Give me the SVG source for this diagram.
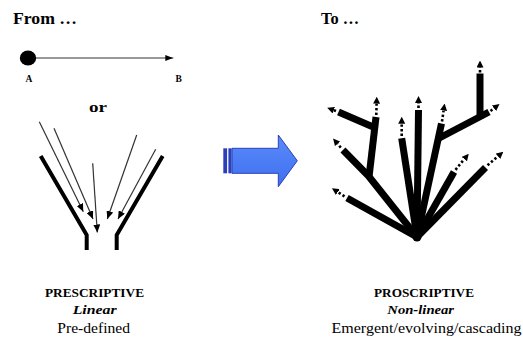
<svg xmlns="http://www.w3.org/2000/svg" width="523" height="338" viewBox="0 0 523 338">
<style>
.t{font-family:"Liberation Serif","Times New Roman",serif;fill:#000}
.b{font-weight:bold}
.thin{stroke:#333;stroke-width:1.2;fill:none}
.thick{stroke:#000;stroke-width:7;fill:none;stroke-linejoin:round;stroke-linecap:butt}
.dot{stroke:#000;stroke-width:2.6;stroke-dasharray:2.4 2.2;fill:none}
.funnel{stroke:#000;stroke-width:4;fill:none;stroke-linejoin:miter}
</style>
<defs>
<marker id="thinHead" markerUnits="userSpaceOnUse" viewBox="0 0 8 7" markerWidth="8" markerHeight="7" refX="8" refY="3.5" orient="auto">
<path d="M0,0 L8,3.5 L0,7 Z" fill="#000"/>
</marker>
<marker id="abHead" markerUnits="userSpaceOnUse" viewBox="0 0 8 6" markerWidth="8" markerHeight="6" refX="8" refY="3" orient="auto">
<path d="M0,0 L8,3 L0,6 Z" fill="#000"/>
</marker>
<marker id="dotHead" markerUnits="userSpaceOnUse" viewBox="0 0 7 7" markerWidth="7" markerHeight="7" refX="0" refY="3.5" orient="auto">
<path d="M0,0 L7,3.5 L0,7 Z" fill="#000"/>
</marker>
<linearGradient id="blue" x1="0" y1="0" x2="0" y2="1">
<stop offset="0" stop-color="#5a8bfb"/>
<stop offset="1" stop-color="#3f6fee"/>
</linearGradient>
</defs>

<g id="title-from">
<text class="t b" x="13" y="24" font-size="16" textLength="64" lengthAdjust="spacingAndGlyphs">From …</text>
</g>
<g id="title-to">
<text class="t b" x="321" y="24" font-size="16" textLength="38" lengthAdjust="spacingAndGlyphs">To …</text>
</g>

<g id="node-A">
<ellipse cx="28" cy="58" rx="8.2" ry="7.5" fill="#000"/>
<text class="t b" x="29" y="81.5" font-size="9.5" text-anchor="middle">A</text>
</g>
<g id="node-B">
<text class="t b" x="178.7" y="81.5" font-size="9.5" text-anchor="middle">B</text>
</g>

<g id="or-label">
<text class="t b" x="98" y="112" font-size="15" text-anchor="middle" textLength="18" lengthAdjust="spacingAndGlyphs">or</text>
</g>

<g id="funnel">
<polyline class="funnel" points="40.7,156 86.7,235 86.7,250"/>
<polyline class="funnel" points="162.7,156 116.7,235 116.7,250"/>
</g>

<g id="big-arrow">
<rect x="223.3" y="148.3" width="3.8" height="25" fill="#2b40b8"/>
<rect x="228.4" y="148.3" width="3.2" height="25" fill="#2b40b8"/>
<path d="M232,148.3 L278.3,148.3 L278.3,135 L297.3,160.8 L278.3,186.7 L278.3,173.3 L232,173.3 Z" fill="url(#blue)" stroke="#2b40b8" stroke-width="1"/>
</g>

<g id="tree">
<circle cx="417" cy="237" r="4.5" fill="#000"/>
<polyline class="thick" points="417,237 347,198"/>
<polyline class="thick" points="417,237 368.5,176 343,150"/>
<polyline class="thick" points="369,177 376,117"/>
<polyline class="thick" points="375.5,128 338.5,112"/>
<polyline class="thick" points="417,237 401.7,138.3"/>
<polyline class="thick" points="417,237 418.5,110"/>
<polyline class="thick" points="417,237 441.5,123.5"/>
<polyline class="thick" points="438.4,138.5 489,112"/>
<polyline class="thick" points="480,118.5 480,73.5"/>
<polyline class="thick" points="417,237 454,172"/>
<polyline class="thick" points="417,237 485.5,167.5"/>
</g>

<g id="connectors">
<line class="thin" x1="36" y1="58" x2="173.3" y2="58" marker-end="url(#abHead)" stroke="#444" stroke-width="1.5"/>
<line class="thin" x1="39.3" y1="121.7" x2="83.3" y2="211.7" marker-end="url(#thinHead)"/>
<line class="thin" x1="54" y1="128.3" x2="93" y2="219" marker-end="url(#thinHead)"/>
<line class="thin" x1="92.7" y1="163.3" x2="97.3" y2="232.5" marker-end="url(#thinHead)"/>
<line class="thin" x1="136.7" y1="135" x2="107.3" y2="219" marker-end="url(#thinHead)"/>
<line class="thin" x1="155.7" y1="149.3" x2="118" y2="219" marker-end="url(#thinHead)"/>

<line class="dot" x1="344.5" y1="196.4" x2="337.8" y2="192" marker-end="url(#dotHead)"/>
<line class="dot" x1="340.8" y1="147.6" x2="337.6" y2="143.8" marker-end="url(#dotHead)"/>
<line class="dot" x1="336" y1="111" x2="333.8" y2="110.2" marker-end="url(#dotHead)"/>
<line class="dot" x1="376.3" y1="115" x2="376.6" y2="103.7" marker-end="url(#dotHead)"/>
<line class="dot" x1="401.7" y1="136" x2="401.7" y2="123.7" marker-end="url(#dotHead)"/>
<line class="dot" x1="418.5" y1="108" x2="418.5" y2="103" marker-end="url(#dotHead)"/>
<line class="dot" x1="442" y1="121.5" x2="443.6" y2="110.5" marker-end="url(#dotHead)"/>
<line class="dot" x1="490.5" y1="111" x2="494" y2="108.3" marker-end="url(#dotHead)"/>
<line class="dot" x1="480" y1="72.5" x2="480" y2="67.5" marker-end="url(#dotHead)"/>
<line class="dot" x1="455.5" y1="169.8" x2="464.3" y2="159.1" marker-end="url(#dotHead)"/>
<line class="dot" x1="487.5" y1="165.3" x2="498" y2="156.3" marker-end="url(#dotHead)"/>
</g>

<g id="label-left">
<text class="t b" x="94.5" y="297" font-size="12.5" text-anchor="middle" textLength="99" lengthAdjust="spacingAndGlyphs">PRESCRIPTIVE</text>
<text class="t b" x="94.7" y="314" font-size="13" font-style="italic" text-anchor="middle" textLength="44" lengthAdjust="spacingAndGlyphs">Linear</text>
<text class="t" x="93.7" y="333" font-size="14" text-anchor="middle" textLength="72.7" lengthAdjust="spacingAndGlyphs">Pre-defined</text>
</g>
<g id="label-right">
<text class="t b" x="424" y="297" font-size="12.5" text-anchor="middle" textLength="100" lengthAdjust="spacingAndGlyphs">PROSCRIPTIVE</text>
<text class="t b" x="420.7" y="314" font-size="13" font-style="italic" text-anchor="middle" textLength="66.7" lengthAdjust="spacingAndGlyphs">Non-linear</text>
<text class="t" x="426.5" y="333" font-size="14" text-anchor="middle" textLength="190" lengthAdjust="spacingAndGlyphs">Emergent/evolving/cascading</text>
</g>
</svg>
